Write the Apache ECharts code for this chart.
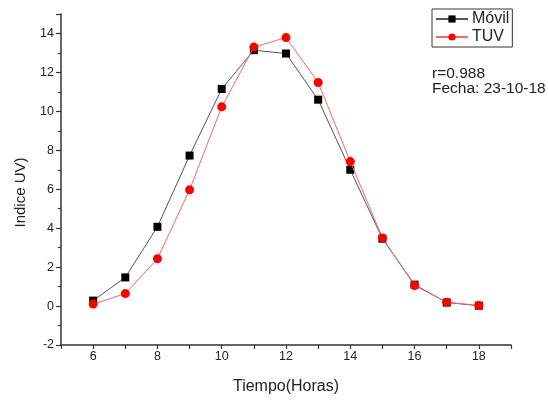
<!DOCTYPE html>
<html>
<head>
<meta charset="utf-8">
<script src="https://cdn.jsdelivr.net/npm/echarts@6/dist/echarts.min.js"></script>
<style>html,body{margin:0;padding:0;background:#fff;}#c{width:548px;height:400px;}</style>
</head>
<body>
<div id="c"></div>
<script>
var hours = [6, 7, 8, 9, 10, 11, 12, 13, 14, 15, 16, 17, 18];
var movil = [0.28, 1.47, 4.07, 7.73, 11.15, 13.14, 12.97, 10.6, 7.0, 3.46, 1.1, 0.18, 0.02];
var tuv = [0.1, 0.64, 2.43, 5.97, 10.23, 13.3, 13.79, 11.48, 7.42, 3.5, 1.05, 0.2, 0.03];
var seriesNames = ['Móvil', 'TUV'];
var xAxisTitle = 'Tiempo(Horas)';
var yAxisTitle = 'Indice UV)';
var noteLines = ['r=0.988', 'Fecha: 23-10-18'];

function pairs(xs, ys) { return xs.map(function (x, i) { return [x, ys[i]]; }); }

var font = 'Liberation Sans, Arial, sans-serif';
var chart = echarts.init(document.getElementById('c'), null, { renderer: 'canvas' });
chart.setOption({
  animation: false,
  backgroundColor: '#fff',
  grid: { left: 61, right: 37, top: 14, bottom: 52, containLabel: false },
  legend: {
    orient: 'vertical', left: 432, top: 9,
    data: seriesNames,
    borderColor: '#333', borderWidth: 1, padding: [2, 3, 2, 3],
    itemWidth: 32, itemHeight: 9, itemGap: 2,
    textStyle: { fontFamily: font, fontSize: 16, color: '#222', padding: [0, 0, 0, -1] }
  },
  xAxis: {
    type: 'value', min: 5, max: 19, interval: 1,
    name: xAxisTitle, nameLocation: 'middle', nameGap: 34,
    nameTextStyle: { fontFamily: font, fontSize: 16, color: '#222' },
    axisLine: { onZero: false, lineStyle: { color: '#333', width: 1.5 } },
    axisTick: { show: true, length: 4, inside: false, lineStyle: { color: '#333', width: 1.2 } },
    axisLabel: {
      fontFamily: font, fontSize: 12.5, color: '#222', margin: 5,
      formatter: function (v) { return v % 2 === 0 ? String(v) : ''; }
    },
    splitLine: { show: false }
  },
  yAxis: {
    type: 'value', min: -2, max: 15, interval: 2,
    name: yAxisTitle, nameLocation: 'middle', nameGap: 33, nameRotate: 90,
    nameTextStyle: { fontFamily: font, fontSize: 15, color: '#222', padding: [0, 26, 0, 0] },
    axisLine: { onZero: false, lineStyle: { color: '#333', width: 1.5 } },
    axisTick: { show: true, length: 5, lineStyle: { color: '#333', width: 1.2 } },
    minorTick: { show: true, splitNumber: 2, length: 3, lineStyle: { color: '#333', width: 1.2 } },
    axisLabel: {
      fontFamily: font, fontSize: 12.5, color: '#222', margin: 7,
      formatter: function (v) { return v % 2 === 0 ? String(v) : ''; }
    },
    splitLine: { show: false }
  },
  series: [
    {
      name: seriesNames[0], type: 'line', data: pairs(hours, movil),
      symbol: 'rect', symbolSize: 8,
      itemStyle: { color: '#000' },
      lineStyle: { color: '#555', width: 1 }, z: 2
    },
    {
      name: seriesNames[1], type: 'line', data: pairs(hours, tuv),
      symbol: 'circle', symbolSize: 9,
      itemStyle: { color: '#ff0000' },
      lineStyle: { color: '#ff6666', width: 1 }, z: 3
    }
  ],
  graphic: [
    {
      type: 'text', left: 432, top: 66,
      style: { text: noteLines.join('\n'), fontFamily: font, fontSize: 15.5, lineHeight: 15, fill: '#222' }
    }
  ]
});
</script>
</body>
</html>
